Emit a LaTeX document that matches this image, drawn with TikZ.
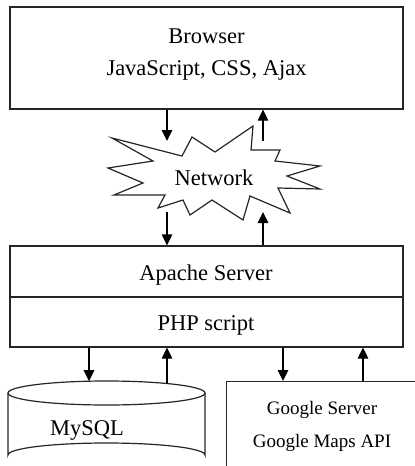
\documentclass[tikz,border=0pt]{standalone}
\usepackage{fontspec}
\setmainfont{Liberation Serif}
\usetikzlibrary{arrows.meta}
\begin{document}
\begin{tikzpicture}[x=1pt,y=-1pt,
  line width=1.2pt,
  box/.style={draw=black!85, rectangle, inner sep=0pt, fill=white},
  lbl/.style={inner sep=0pt, anchor=base, font=\fontsize{22.5}{27}\selectfont},
  slbl/.style={inner sep=0pt, anchor=base, font=\fontsize{19}{23}\selectfont},
  arr/.style={draw=black, -{Triangle[width=10.5pt,length=11pt]}},
  shp/.style={draw=black!85, line join=miter}]
\useasboundingbox (0,0) rectangle (415,466);
\clip (0,0) rectangle (415,466);
\fill[white] (0,0) rectangle (415,466);

% Browser
\node[box, minimum width=393pt, minimum height=102pt] (browser) at (206.5,58) {};
\node[lbl] (browsert) at (206.5,43) {Browser};
\node[lbl] (browsert2) at (206.5,75) {JavaScript, CSS, Ajax};

% Network star
\draw[shp] plot coordinates {(112,138) (182,156) (192,137) (215,152) (253,126) (251,150) (280,150) (275,161) (320,166) (287,176) (320,189) (278,188) (290,213) (250,196) (243,220) (212,200) (190,215) (183,200) (158,208) (165,195) (114,195) (143,183) (108,168) (153,161)} -- cycle;
\node[lbl] (net) at (214,185) {Network};
\coordinate (n1) at (167,141);
\coordinate (n2) at (263,141);
\coordinate (n3) at (167,212);
\coordinate (n4) at (263,212);

% Apache / PHP
\node[box, minimum width=393pt, minimum height=51pt] (apache) at (206.5,271.5) {};
\node[box, minimum width=393pt, minimum height=50pt] (php) at (206.5,322) {};
\node[lbl] (apachet) at (206,280) {Apache Server};
\node[lbl] (phpt) at (206,330) {PHP script};

% MySQL cylinder
\draw[shp] (8,393) -- (8,455) arc[start angle=180,end angle=360,x radius=98.5,y radius=12] -- (205,393);
\draw[shp] (106.5,393) ellipse [x radius=98.5, y radius=12];
\coordinate (db1) at (89,381.2);
\coordinate (db2) at (167,383.5);
\node[lbl] (mysql) at (87,435) {MySQL};

% Google
\node[box, anchor=north west, minimum width=220pt, minimum height=110pt] (google) at (226,381) {};
\node[slbl] (gt1) at (322,414) {Google Server};
\node[slbl] (gt2) at (322,447) {Google Maps API};

% Arrows
\draw[arr] (browser.south -| n1) -- (n1);
\draw[arr] (n2) -- (browser.south -| n2);
\draw[arr] (n3) -- (apache.north -| n3);
\draw[arr] (apache.north -| n4) -- (n4);
\draw[arr] (php.south -| db1) -- (db1);
\draw[arr] (db2) -- (php.south -| db2);
\draw[arr] (php.south -| 283,0) -- (google.north -| 283,0);
\draw[arr] (google.north -| 363,0) -- (php.south -| 363,0);
\end{tikzpicture}
\end{document}
